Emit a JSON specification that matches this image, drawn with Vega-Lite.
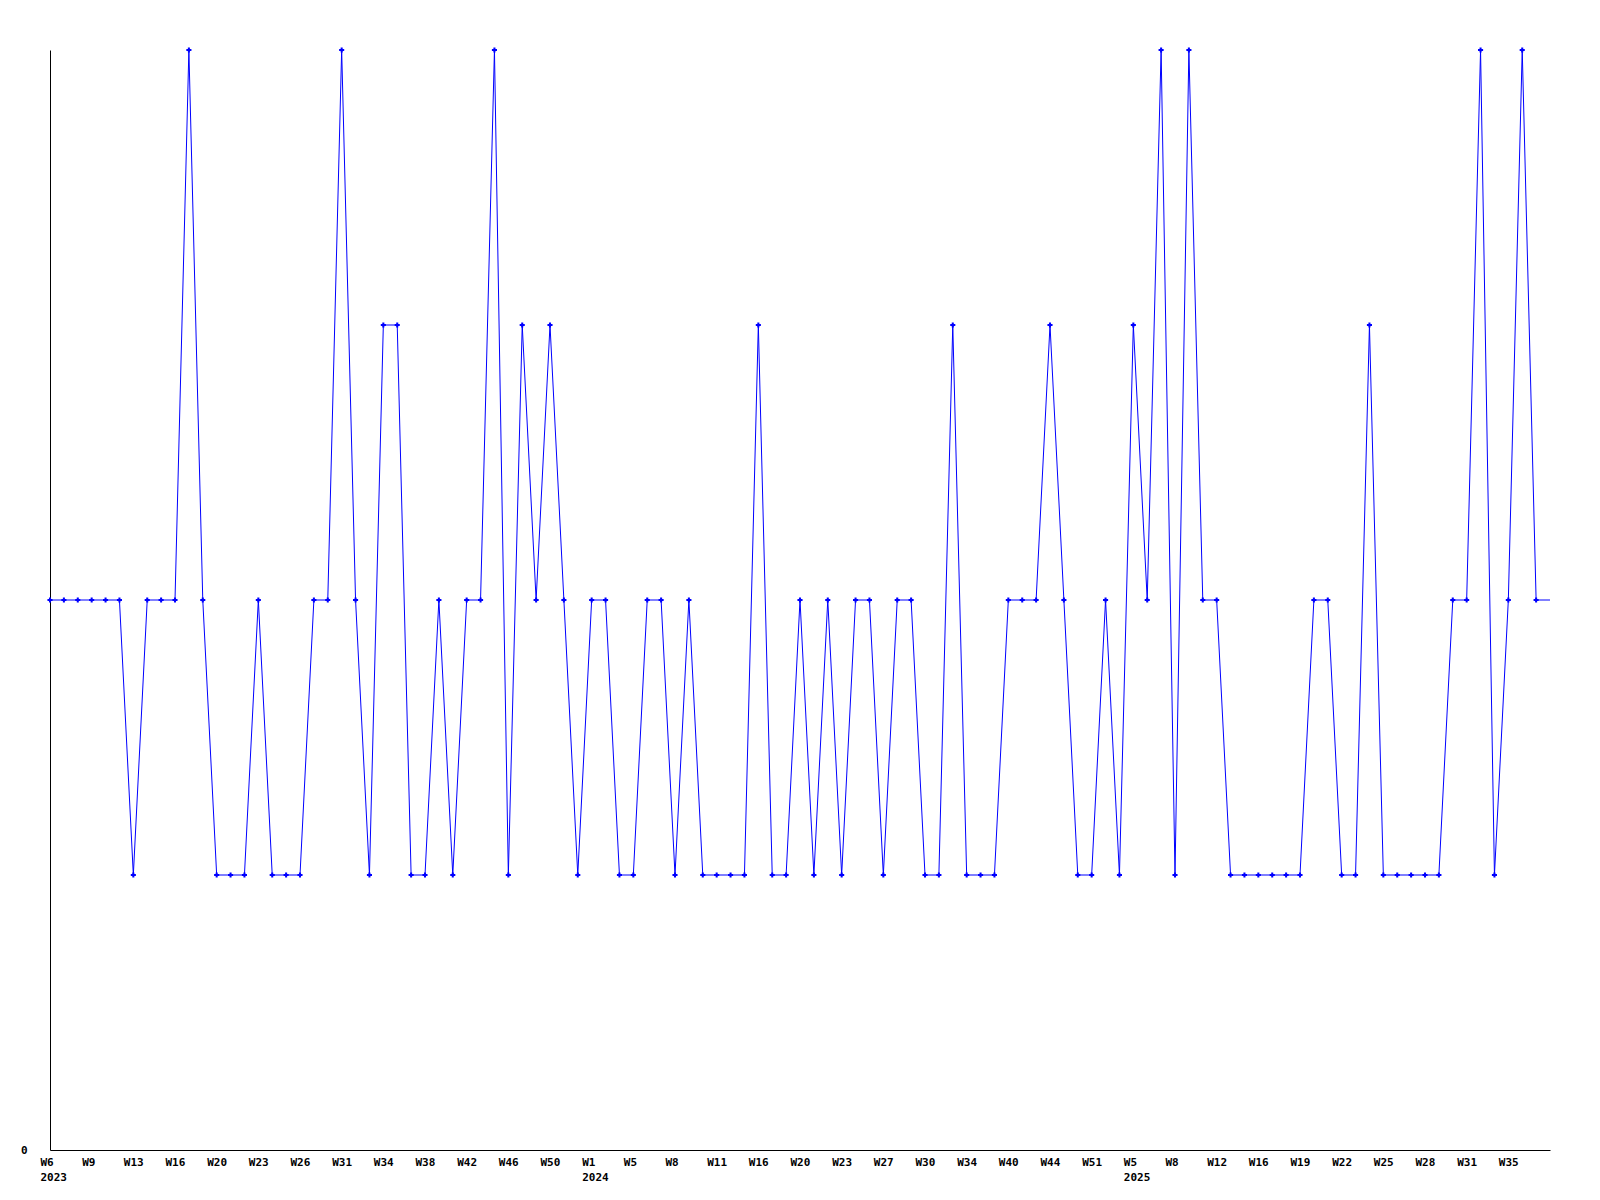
{
  "$schema": "https://vega.github.io/schema/vega-lite/v6.json",
  "width": 1500,
  "height": 1100,
  "autosize": {"type": "none"},
  "padding": {"left": 50, "top": 50, "right": 50, "bottom": 50},
  "background": "white",
  "config": {
    "view": {"stroke": null},
    "axis": {"labelFont": "DejaVu Sans Mono", "labelFontWeight": "bold", "labelFontSize": 11, "labelColor": "black", "domainColor": "black", "domainWidth": 1, "ticks": false, "grid": false, "title": null}
  },
  "data": {"values": [
    {"week": "2023-W06", "v": 2}, {"week": "2023-W07", "v": 2}, {"week": "2023-W08", "v": 2},
    {"week": "2023-W09", "v": 2}, {"week": "2023-W10", "v": 2}, {"week": "2023-W11", "v": 2},
    {"week": "2023-W13", "v": 1}, {"week": "2023-W14", "v": 2}, {"week": "2023-W15", "v": 2},
    {"week": "2023-W16", "v": 2}, {"week": "2023-W17", "v": 4}, {"week": "2023-W18", "v": 2},
    {"week": "2023-W20", "v": 1}, {"week": "2023-W21", "v": 1}, {"week": "2023-W22", "v": 1},
    {"week": "2023-W23", "v": 2}, {"week": "2023-W24", "v": 1}, {"week": "2023-W25", "v": 1},
    {"week": "2023-W26", "v": 1}, {"week": "2023-W27", "v": 2}, {"week": "2023-W29", "v": 2},
    {"week": "2023-W31", "v": 4}, {"week": "2023-W32", "v": 2}, {"week": "2023-W33", "v": 1},
    {"week": "2023-W34", "v": 3}, {"week": "2023-W35", "v": 3}, {"week": "2023-W36", "v": 1},
    {"week": "2023-W38", "v": 1}, {"week": "2023-W39", "v": 2}, {"week": "2023-W40", "v": 1},
    {"week": "2023-W42", "v": 2}, {"week": "2023-W43", "v": 2}, {"week": "2023-W44", "v": 4},
    {"week": "2023-W46", "v": 1}, {"week": "2023-W47", "v": 3}, {"week": "2023-W48", "v": 2},
    {"week": "2023-W50", "v": 3}, {"week": "2023-W51", "v": 2}, {"week": "2023-W52", "v": 1},
    {"week": "2024-W01", "v": 2}, {"week": "2024-W02", "v": 2}, {"week": "2024-W03", "v": 1},
    {"week": "2024-W05", "v": 1}, {"week": "2024-W06", "v": 2}, {"week": "2024-W07", "v": 2},
    {"week": "2024-W08", "v": 1}, {"week": "2024-W09", "v": 2}, {"week": "2024-W10", "v": 1},
    {"week": "2024-W11", "v": 1}, {"week": "2024-W13", "v": 1}, {"week": "2024-W14", "v": 1},
    {"week": "2024-W16", "v": 3}, {"week": "2024-W17", "v": 1}, {"week": "2024-W18", "v": 1},
    {"week": "2024-W20", "v": 2}, {"week": "2024-W21", "v": 1}, {"week": "2024-W22", "v": 2},
    {"week": "2024-W23", "v": 1}, {"week": "2024-W24", "v": 2}, {"week": "2024-W25", "v": 2},
    {"week": "2024-W27", "v": 1}, {"week": "2024-W28", "v": 2}, {"week": "2024-W29", "v": 2},
    {"week": "2024-W30", "v": 1}, {"week": "2024-W31", "v": 1}, {"week": "2024-W32", "v": 3},
    {"week": "2024-W34", "v": 1}, {"week": "2024-W36", "v": 1}, {"week": "2024-W38", "v": 1},
    {"week": "2024-W40", "v": 2}, {"week": "2024-W41", "v": 2}, {"week": "2024-W42", "v": 2},
    {"week": "2024-W44", "v": 3}, {"week": "2024-W46", "v": 2}, {"week": "2024-W48", "v": 1},
    {"week": "2024-W51", "v": 1}, {"week": "2024-W52", "v": 2}, {"week": "2025-W02", "v": 1},
    {"week": "2025-W05", "v": 3}, {"week": "2025-W06", "v": 2}, {"week": "2025-W07", "v": 4},
    {"week": "2025-W08", "v": 1}, {"week": "2025-W09", "v": 4}, {"week": "2025-W10", "v": 2},
    {"week": "2025-W12", "v": 2}, {"week": "2025-W13", "v": 1}, {"week": "2025-W14", "v": 1},
    {"week": "2025-W16", "v": 1}, {"week": "2025-W17", "v": 1}, {"week": "2025-W18", "v": 1},
    {"week": "2025-W19", "v": 1}, {"week": "2025-W20", "v": 2}, {"week": "2025-W21", "v": 2},
    {"week": "2025-W22", "v": 1}, {"week": "2025-W23", "v": 1}, {"week": "2025-W24", "v": 3},
    {"week": "2025-W25", "v": 1}, {"week": "2025-W26", "v": 1}, {"week": "2025-W27", "v": 1},
    {"week": "2025-W28", "v": 1}, {"week": "2025-W29", "v": 1}, {"week": "2025-W30", "v": 2},
    {"week": "2025-W31", "v": 2}, {"week": "2025-W32", "v": 4}, {"week": "2025-W33", "v": 1},
    {"week": "2025-W35", "v": 2}, {"week": "2025-W36", "v": 4}, {"week": "2025-W37", "v": 2},
    {"week": "2025-W38", "v": 2}
  ]},
  "encoding": {
    "x": {
      "field": "week", "type": "ordinal", "sort": null,
      "scale": {"type": "point", "padding": 0},
      "axis": {
        "labelAngle": 0,
        "labelAlign": "left",
        "labelOffset": -10,
        "labelBaseline": "top",
        "labelPadding": 6,
        "labelLineHeight": 15,
        "labelOverlap": false,
        "values": ["2023-W06","2023-W09","2023-W13","2023-W16","2023-W20","2023-W23","2023-W26","2023-W31","2023-W34","2023-W38","2023-W42","2023-W46","2023-W50","2024-W01","2024-W05","2024-W08","2024-W11","2024-W16","2024-W20","2024-W23","2024-W27","2024-W30","2024-W34","2024-W40","2024-W44","2024-W51","2025-W05","2025-W08","2025-W12","2025-W16","2025-W19","2025-W22","2025-W25","2025-W28","2025-W31","2025-W35"],
        "labelExpr": "(datum.value == '2023-W06' || datum.value == '2024-W01' || datum.value == '2025-W05') ? ['W' + toNumber(slice(datum.value, 6)), slice(datum.value, 0, 4)] : 'W' + toNumber(slice(datum.value, 6))"
      }
    },
    "y": {
      "field": "v", "type": "quantitative",
      "scale": {"domain": [0, 4], "nice": false, "zero": true},
      "axis": {"values": [0], "labelPadding": 23, "labelBaseline": "middle"}
    }
  },
  "layer": [
    {"mark": {"type": "line", "color": "#0000ff", "strokeWidth": 1, "interpolate": "linear"}},
    {
      "transform": [{"filter": "datum.week != '2025-W38'"}],
      "mark": {"type": "point", "shape": "cross", "filled": true, "color": "#0000ff", "size": 26, "opacity": 1}
    }
  ]
}
